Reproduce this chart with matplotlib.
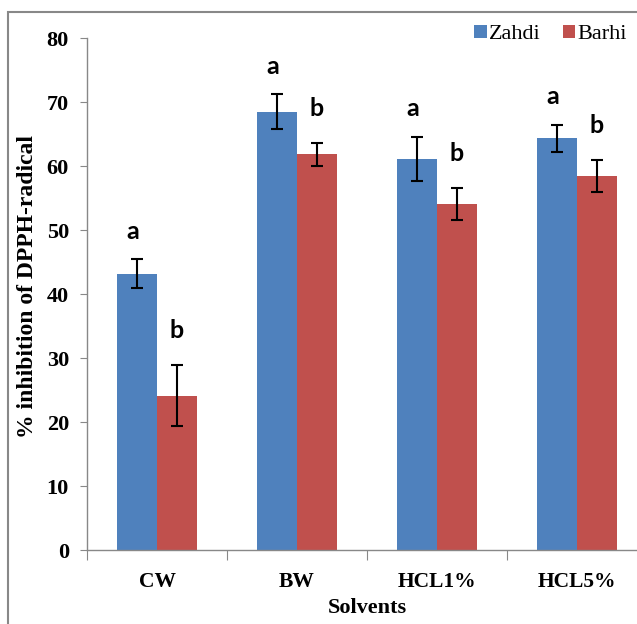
import matplotlib
matplotlib.use("Agg")
import matplotlib.pyplot as plt
from matplotlib.patches import Rectangle
import numpy as np

categories = ["CW", "BW", "HCL1%", "HCL5%"]
zahdi = [43.2, 68.5, 61.1, 64.3]
zahdi_err = [2.2, 2.7, 3.5, 2.1]
barhi = [24.1, 61.8, 54.1, 58.4]
barhi_err = [4.8, 1.8, 2.5, 2.5]
zahdi_letters = ["a", "a", "a", "a"]
barhi_letters = ["b", "b", "b", "b"]
yticks = [0, 10, 20, 30, 40, 50, 60, 70, 80]

blue = "#4F81BD"
red = "#C0504D"
serif = ["Liberation Serif", "DejaVu Serif"]

fig = plt.figure(figsize=(6.37, 6.24), dpi=100)
# outer frame
fig.patches.append(Rectangle((8/637, -0.1), 1.2, 1.0 + 0.1 - 12/624,
                             transform=fig.transFigure, fill=False,
                             edgecolor="#888888", linewidth=1.5))

ax = fig.add_axes([87/637, 1-550/624, 560/637, (550-38)/624])
x = np.arange(len(categories))
w = 0.286
ax.bar(x - w/2, zahdi, w, color=blue, label="Zahdi", zorder=2)
ax.bar(x + w/2, barhi, w, color=red, label="Barhi", zorder=2)
ax.errorbar(x - w/2, zahdi, yerr=zahdi_err, fmt="none", ecolor="black",
            elinewidth=1.5, capsize=4, capthick=1.5, zorder=3)
ax.errorbar(x + w/2, barhi, yerr=barhi_err, fmt="none", ecolor="black",
            elinewidth=1.5, capsize=4, capthick=1.5, zorder=3)

for i in range(len(categories)):
    ax.text(x[i] - w/2 - 0.03, zahdi[i] + zahdi_err[i] + 4.4, zahdi_letters[i],
            ha="center", va="center", fontsize=18, fontweight="bold",
            family=["Lato", "DejaVu Sans"])
    ax.text(x[i] + w/2, barhi[i] + barhi_err[i] + 5.4, barhi_letters[i],
            ha="center", va="center", fontsize=18, fontweight="bold",
            family=["Lato", "DejaVu Sans"])

ax.set_xlim(-0.5, 3.5)
ax.set_ylim(0, 80)
ax.set_yticks(yticks)
ax.set_yticklabels([str(v) for v in yticks], fontsize=16, fontweight="bold",
                   family=serif)
ax.set_xticks(np.arange(-0.5, 4.0, 1.0), minor=False)
ax.set_xticklabels([])
ax.set_xticks(x, minor=True)
ax.set_xticklabels(categories, minor=True, fontsize=15.5, fontweight="bold",
                   family=serif)
ax.tick_params(axis="x", which="major", length=7, color="#888888", direction="out")
ax.tick_params(axis="x", which="minor", length=0, pad=16)
ax.tick_params(axis="y", length=5, color="#888888", pad=8)
for s in ["top", "right"]:
    ax.spines[s].set_visible(False)
for s in ["left", "bottom"]:
    ax.spines[s].set_color("#888888")
    ax.spines[s].set_linewidth(1.0)

ax.set_xlabel("Solvents", fontsize=16, fontweight="bold", family=serif)
ax.xaxis.set_label_coords(0.5, -0.094)
ax.set_ylabel("% inhibition of DPPH-radical", fontsize=17, fontweight="bold",
              family=serif)
ax.yaxis.set_label_coords(-0.087, 0.515)

leg = fig.legend(loc="upper right", bbox_to_anchor=(1.005, 0.982), ncol=2,
                 frameon=False, prop={"family": serif, "size": 16},
                 handlelength=0.55, handleheight=0.55, handletextpad=0.1,
                 columnspacing=1.0, borderaxespad=0.2)

fig.savefig("out.png", dpi=100)
